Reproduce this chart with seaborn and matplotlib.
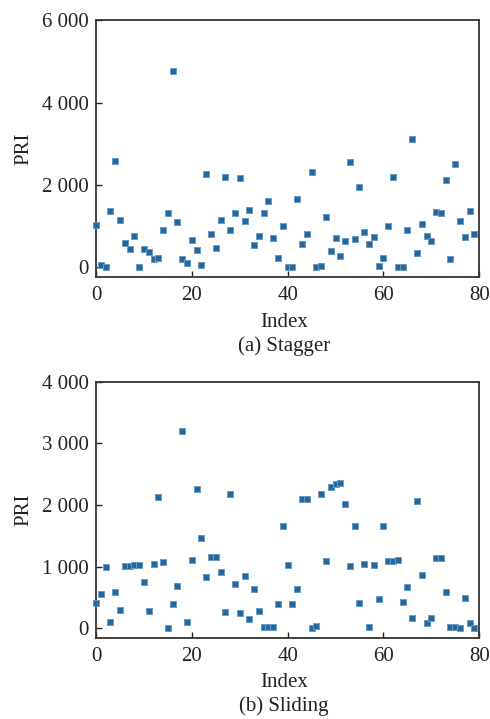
import numpy as np
import pandas as pd
import matplotlib
matplotlib.use("Agg")
import matplotlib.pyplot as plt
from matplotlib.ticker import FuncFormatter
import seaborn as sns

stagger_pri = [1030, 50, 0, 1370, 2580, 1140, 600, 440, 760, 0,
               445, 380, 200, 225, 920, 1310, 4760, 1100, 200, 100,
               670, 430, 50, 2280, 815, 470, 1140, 2200, 920, 1310,
               2160, 1130, 1390, 540, 770, 1310, 1610, 720, 235, 1000,
               20, 0, 1650, 570, 800, 2320, 10, 40, 1230, 400,
               720, 280, 645, 2570, 690, 1950, 850, 560, 745, 40,
               240, 1000, 2190, 10, 0, 920, 3120, 340, 1065, 770,
               645, 1350, 1310, 2130, 200, 2505, 1130, 750, 1360, 810]

sliding_pri = [420, 566, 1000, 97, 594, 302, 1015, 1015, 1025, 1035,
               745, 287, 1050, 2125, 1075, 0, 390, 690, 3200, 108,
               1117, 2260, 1468, 837, 1160, 1165, 917, 259, 2180, 728,
               254, 842, 157, 647, 281, 16, 16, 16, 390, 1667,
               1036, 395, 642, 2104, 2100, 0, 32, 2175, 1095, 2293,
               2337, 2363, 2018, 1020, 1657, 420, 1047, 22, 1026, 470,
               1667, 1090, 1095, 1107, 432, 670, 173, 2071, 864, 81,
               173, 1144, 1144, 589, 22, 22, 0, 497, 92, 6]

x_ticks = [0, 20, 40, 60, 80]
top_yticks = [0, 2000, 4000, 6000]
bot_yticks = [0, 1000, 2000, 3000, 4000]
captions = ["(a) Stagger", "(b) Sliding"]

sns.set_theme(style="white")
plt.rcParams['font.family'] = ['Liberation Serif', 'DejaVu Serif']

fig = plt.figure(figsize=(4.9, 7.19), dpi=100)
ax1 = fig.add_axes([0.196, 0.6143, 0.782, 0.3574])
ax2 = fig.add_axes([0.196, 0.1131, 0.782, 0.3560])

fmt = FuncFormatter(lambda v, p: f"{int(round(v)):,}".replace(",", " "))
color = "#23679c"
fs = 15

panels = [(ax1, stagger_pri, top_yticks, (-240, 6000), 0.5122, captions[0]),
          (ax2, sliding_pri, bot_yticks, (-150, 4000), 0.0118, captions[1])]

for ax, vals, yt, ylim, cap_y, cap in panels:
    df = pd.DataFrame({"Index": np.arange(len(vals)), "PRI": vals})
    sns.scatterplot(data=df, x="Index", y="PRI", ax=ax, color=color,
                    marker="s", s=16, edgecolor="#6a9cc6", linewidth=0.7,
                    clip_on=False, zorder=3)
    ax.set_xlim(0, 80)
    ax.set_ylim(*ylim)
    ax.set_xticks(x_ticks)
    ax.set_yticks(yt)
    ax.yaxis.set_major_formatter(fmt)
    ax.tick_params(direction="in", length=4, width=1.0, labelsize=fs,
                   colors="#222222", bottom=True, left=True)
    ax.tick_params(axis="x", pad=6.5)
    ax.tick_params(axis="y", pad=5)
    for sp in ax.spines.values():
        sp.set_visible(True)
        sp.set_color("#333333")
        sp.set_linewidth(1.3)
    ax.set_xlabel("Index", fontsize=fs, color="#222222", va="baseline")
    ax.xaxis.set_label_coords(0.49, -0.192)
    ax.set_ylabel("PRI", fontsize=fs, color="#222222")
    ax.yaxis.set_label_coords(-0.164, 0.5)
    fig.text(0.5795, cap_y, cap, ha="center", va="baseline", fontsize=fs,
             color="#222222")

fig.savefig("out.png", dpi=100)
